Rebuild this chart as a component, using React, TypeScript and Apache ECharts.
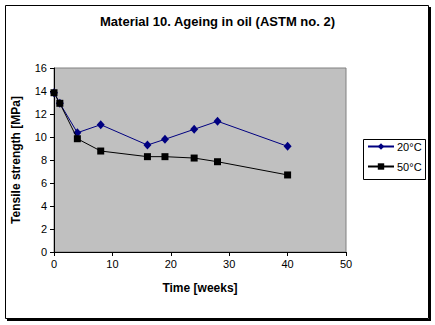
import React, { useEffect, useRef } from "react";
import * as echarts from "echarts";

const weeks20 = [0, 1, 4, 8, 16, 19, 24, 28, 40];
const values20 = [13.85, 12.93, 10.37, 11.07, 9.3, 9.8, 10.67, 11.37, 9.19];
const weeks50 = [0, 1, 4, 8, 16, 19, 24, 28, 40];
const values50 = [13.85, 12.93, 9.85, 8.78, 8.29, 8.29, 8.17, 7.85, 6.7];
const seriesNames = ["20°C", "50°C"];
const titleText = "Material 10. Ageing in oil (ASTM no. 2)";
const xName = "Time [weeks]";
const yName = "Tensile strength [MPa]";

const FONT = "'Liberation Sans', Arial, sans-serif";

export default function App() {
  const ref = useRef<HTMLDivElement>(null);
  useEffect(() => {
    if (!ref.current) return;
    const chart = echarts.init(ref.current, null, { renderer: "svg" });
    chart.setOption({
      animation: false,
      backgroundColor: "#ffffff",
      textStyle: { fontFamily: FONT },
      title: {
        text: titleText,
        left: "center",
        top: 10,
        textStyle: { fontFamily: FONT, fontSize: 13, fontWeight: "bold", color: "#000" },
      },
      grid: {
        left: 54,
        top: 68,
        right: 89,
        bottom: 73,
        show: true,
        backgroundColor: "#c0c0c0",
        borderColor: "#808080",
        borderWidth: 1,
      },
      xAxis: {
        type: "value",
        min: 0,
        max: 50,
        interval: 10,
        name: xName,
        nameLocation: "middle",
        nameGap: 30,
        nameTextStyle: { fontFamily: FONT, fontSize: 12, fontWeight: "bold", color: "#000" },
        axisLine: { show: true, lineStyle: { color: "#000", width: 1 } },
        axisTick: { show: true, length: 4, lineStyle: { color: "#000" } },
        axisLabel: { fontFamily: FONT, fontSize: 11, color: "#000", margin: 6 },
        splitLine: { show: false },
      },
      yAxis: {
        type: "value",
        min: 0,
        max: 16,
        interval: 2,
        name: yName,
        nameLocation: "middle",
        nameGap: 32,
        nameTextStyle: { fontFamily: FONT, fontSize: 12, fontWeight: "bold", color: "#000" },
        axisLine: { show: true, lineStyle: { color: "#000", width: 1 } },
        axisTick: { show: true, length: 4, lineStyle: { color: "#000" } },
        axisLabel: { fontFamily: FONT, fontSize: 11, color: "#000", margin: 7 },
        splitLine: { show: false },
      },
      legend: {
        orient: "vertical",
        left: 367,
        top: 141,
        padding: 0,
        itemWidth: 26,
        itemHeight: 8,
        itemGap: 9,
        textStyle: { fontFamily: FONT, fontSize: 11, color: "#000", padding: [0, 0, 0, -2] },
        data: seriesNames,
      },
      graphic: [
        {
          type: "rect",
          shape: { x: 5.5, y: 5.5, width: 423, height: 313 },
          style: { fill: "none", stroke: "#000", lineWidth: 1 },
          z: 100,
        },
        {
          type: "polyline",
          shape: { points: [[430, 7], [430, 320], [7, 320]] },
          style: { fill: "none", stroke: "#000", lineWidth: 2 },
          z: 100,
        },
        {
          type: "rect",
          shape: { x: 363.5, y: 139.5, width: 62, height: 40 },
          style: { fill: "none", stroke: "#000", lineWidth: 1 },
          z: 100,
        },
      ],
      series: [
        {
          name: seriesNames[0],
          type: "line",
          data: weeks20.map((w, i) => [w, values20[i]]),
          symbol: "diamond",
          symbolSize: [8, 9],
          lineStyle: { color: "#000080", width: 1 },
          itemStyle: { color: "#000080" },
          z: 3,
        },
        {
          name: seriesNames[1],
          type: "line",
          data: weeks50.map((w, i) => [w, values50[i]]),
          symbol: "rect",
          symbolSize: 7,
          lineStyle: { color: "#000000", width: 1 },
          itemStyle: { color: "#000000" },
          z: 4,
        },
      ],
    });
    return () => chart.dispose();
  }, []);
  return (
    <div
      ref={ref}
      style={{ position: "absolute", left: 0, top: 0, width: 435, height: 325 }}
    />
  );
}
